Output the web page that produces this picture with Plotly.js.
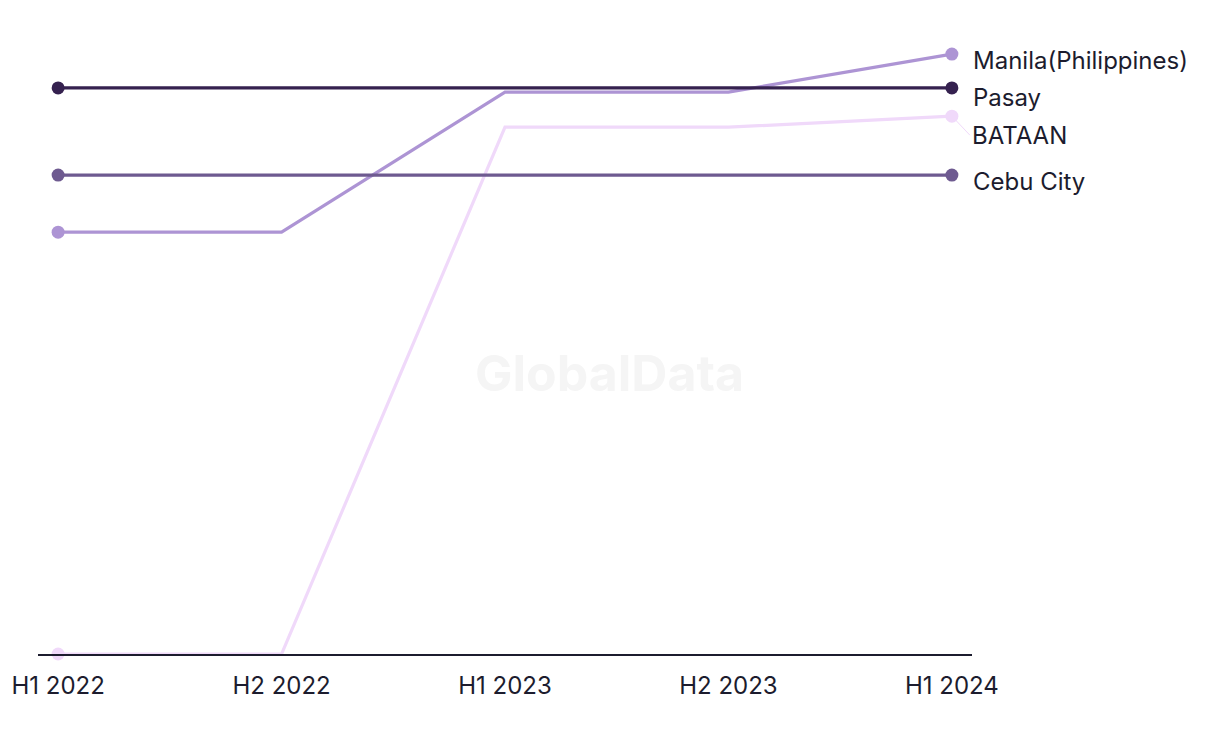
<!DOCTYPE html>
<html>
<head>
<meta charset="utf-8">
<script src="https://cdn.plot.ly/plotly-3.0.1.min.js"></script>
<style>html,body{margin:0;padding:0;background:#fff;}#chart{width:1220px;height:744px;}</style>
</head>
<body>
<div id="chart"></div>
<script>
const periods = ["H1 2022", "H2 2022", "H1 2023", "H2 2023", "H1 2024"];
const seriesNames = ["Manila(Philippines)", "Pasay", "BATAAN", "Cebu City"];
const manila = [68.7, 68.7, 91.5, 91.5, 97.7];
const pasay = [92.2, 92.2, 92.2, 92.2, 92.2];
const bataan = [0, 0, 85.8, 85.8, 87.6];
const cebu = [78.0, 78.0, 78.0, 78.0, 78.0];
const colors = ["#ad94d4", "#35214f", "#f0d9fa", "#6e5a90"];
const labelShift = [[20, -6], [20, -10], [20, -19], [20, -6]];
const FONT = "Inter, 'Liberation Sans', sans-serif";

const values = [manila, pasay, bataan, cebu];
const endSizes = [13, 0, 0, 0, 13];
const traces = values.map((v, i) => ({
  x: periods, y: v, type: "scatter", mode: "lines+markers", name: seriesNames[i],
  line: {color: colors[i], width: 3.2},
  marker: {color: colors[i], size: endSizes, opacity: 1, line: {width: 0}},
  opacity: 1,
  cliponaxis: false, hoverinfo: "skip"
}));
const order = [2, 0, 3, 1];
const data = order.map(i => traces[i]);

const annotations = values.map((v, i) => {
  const a = {
    x: periods[periods.length - 1], y: v[v.length - 1], xref: "x", yref: "y",
    text: seriesNames[i], xanchor: "left", yanchor: "middle",
    font: {family: FONT, size: 24, color: "#1c1c2e"},
    showarrow: false, xshift: 19, yshift: labelShift[i][1]
  };
  if (i === 2) {
    a.showarrow = true; a.arrowhead = 0; a.arrowwidth = 1; a.arrowcolor = colors[2];
    a.axref = "pixel"; a.ayref = "pixel"; a.ax = 18; a.ay = 19; a.xshift = 0; a.yshift = 0;
    a.standoff = 2;
  }
  return a;
});
annotations.push({
  xref: "paper", yref: "paper", x: 0.612, y: 0.458, text: "<b>GlobalData</b>", showarrow: false,
  font: {family: FONT, size: 50, color: "#f5f5f5"}
});

const layout = {
  width: 1220, height: 744,
  margin: {l: 38, r: 248, t: 40, b: 90},
  paper_bgcolor: "#ffffff", plot_bgcolor: "#ffffff",
  showlegend: false,
  xaxis: {
    type: "category", range: [-0.09, 4.09], showgrid: false, zeroline: false,
    showline: true, linecolor: "#1c1c2e", linewidth: 1.5, ticks: "",
    tickfont: {family: FONT, size: 24, color: "#1c1c2e"},
    ticklabelstandoff: 10
  },
  yaxis: {range: [0, 100], visible: false, showgrid: false, zeroline: false},
  annotations: annotations
};
Plotly.newPlot("chart", data, layout, {displayModeBar: false, staticPlot: true});
</script>
</body>
</html>
